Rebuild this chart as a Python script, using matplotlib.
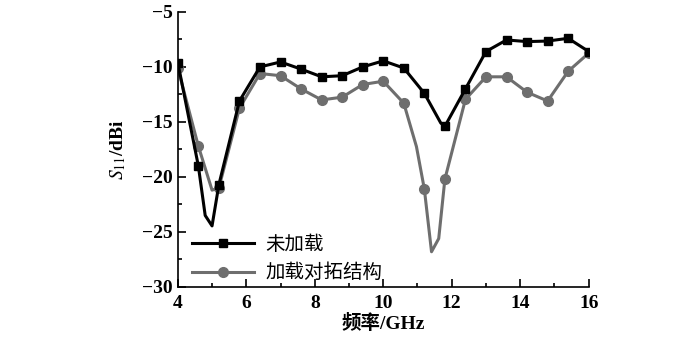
import numpy as np
import matplotlib.pyplot as plt
from matplotlib.ticker import MultipleLocator

# 频率 (GHz) 与 S11 (dB)
freq_a = [4.0, 4.6, 4.8, 5.0, 5.2, 5.8, 6.05, 6.4, 7.0, 7.6, 8.2, 8.8, 9.4, 10.0,
          10.6, 11.2, 11.68, 11.8, 12.4, 13.0, 13.6, 14.2, 14.8, 15.4, 16.0]
s11_a = [-9.6, -19.0, -23.5, -24.45, -20.7, -13.1, -11.8, -10.0, -9.55, -10.2, -10.9, -10.8, -10.0, -9.45,
         -10.1, -12.4, -15.1, -15.4, -12.0, -8.6, -7.55, -7.7, -7.65, -7.4, -8.6]
mark_a = [0, 1, 4, 5, 7, 8, 9, 10, 11, 12, 13, 14, 15, 17, 18, 19, 20, 21, 22, 23, 24]

freq_b = [4.0, 4.6, 5.0, 5.2, 5.8, 6.4, 7.0, 7.6, 8.2, 8.8, 9.4, 10.0,
          10.6, 10.97, 11.2, 11.41, 11.62, 11.8, 12.4, 13.0, 13.6, 14.2, 14.8, 15.4, 16.0]
s11_b = [-10.1, -17.2, -21.2, -21.0, -13.75, -10.6, -10.8, -12.0, -13.0, -12.75, -11.6, -11.3,
         -13.3, -17.25, -21.1, -26.8, -25.6, -20.2, -12.95, -10.9, -10.9, -12.3, -13.1, -10.4, -8.75]
mark_b = [0, 1, 3, 4, 5, 6, 7, 8, 9, 10, 11, 12, 14, 17, 18, 19, 20, 21, 22, 23, 24]

labels = ['未加载', '加载对拓结构']

plt.rcParams['font.family'] = ['Liberation Serif', 'Noto Sans CJK SC']
plt.rcParams['mathtext.fontset'] = 'stix'

fig = plt.figure(figsize=(7, 3.4), dpi=100)
ax = fig.add_axes([0.254, 0.156, 0.587, 0.809])

ax.plot(freq_a, s11_a, '-', color='#000000', lw=2.2, marker='s', ms=6,
        markevery=mark_a, label=labels[0], zorder=3)
ax.plot(freq_b, s11_b, '-', color='#6e6e6e', lw=2.2, marker='o', ms=7,
        markevery=mark_b, label=labels[1], zorder=2)

ax.set_xlim(4, 16)
ax.set_ylim(-30, -5)
ax.xaxis.set_major_locator(MultipleLocator(2))
ax.xaxis.set_minor_locator(MultipleLocator(1))
ax.yaxis.set_major_locator(MultipleLocator(5))
ax.yaxis.set_minor_locator(MultipleLocator(2.5))
ax.tick_params(which='both', direction='in', labelsize=14, width=1.2)
ax.tick_params(which='major', length=6)
ax.tick_params(which='minor', length=3)
ax.tick_params(axis='x', pad=6)
for lab in ax.get_xticklabels() + ax.get_yticklabels():
    lab.set_fontweight('bold')
for s in ['top', 'right']:
    ax.spines[s].set_visible(False)
for s in ['left', 'bottom']:
    ax.spines[s].set_linewidth(1.2)

ax.set_xlabel('频率/GHz', fontsize=14, fontweight='bold', labelpad=1)
ax.set_ylabel(r'$S_{11}$/dBi', fontsize=14, fontweight='bold', labelpad=10)

leg = ax.legend(loc='lower left', bbox_to_anchor=(0.015, -0.015), frameon=False,
                handlelength=3.2, handletextpad=0.6, labelspacing=0.4, borderaxespad=0,
                prop={'family': ['Noto Sans CJK SC'], 'size': 14})

fig.savefig('out.png', dpi=100)
